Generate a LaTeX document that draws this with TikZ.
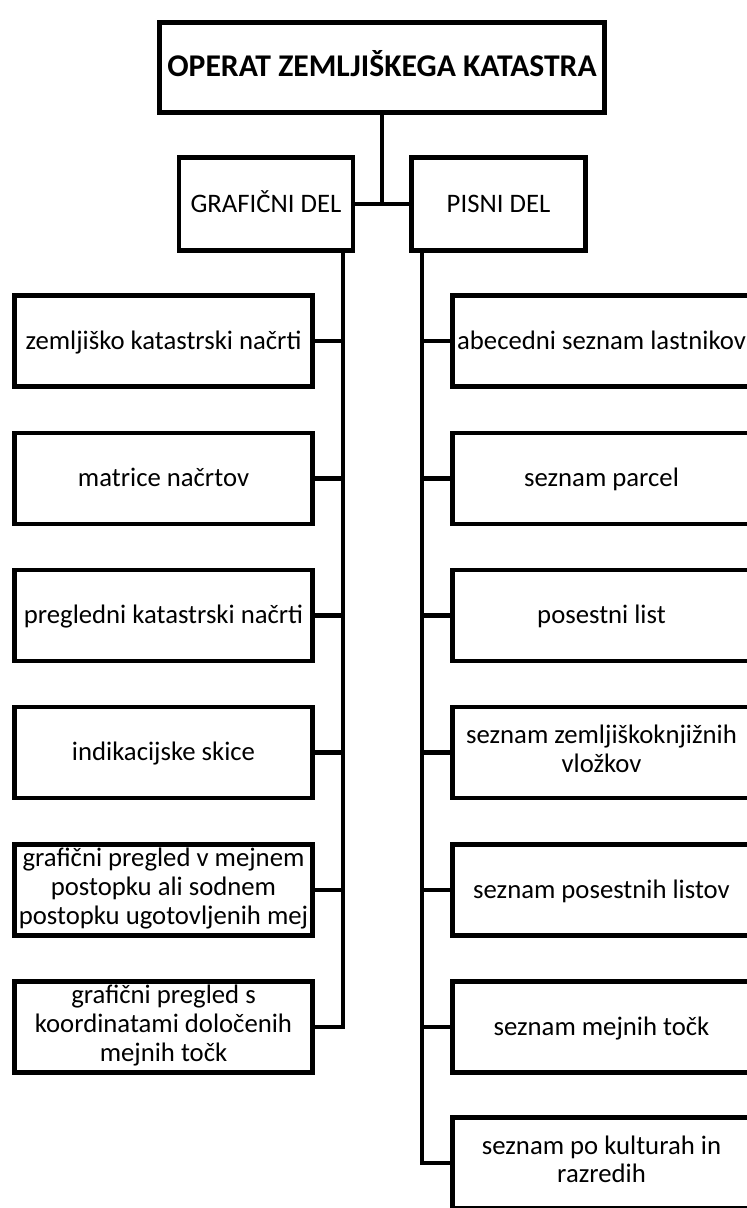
\documentclass[tikz,border=0pt]{standalone}
\usepackage{fontspec}
\setmainfont{Carlito}
\usetikzlibrary{positioning}
\newcommand{\nstrut}{\rule[-5.4pt]{0pt}{22.8pt}}
\tikzset{
  nd/.style={rectangle, draw=black, fill=white, line width=3.5pt,
             align=center, inner xsep=1pt, inner ysep=0pt,
             font=\fontsize{19}{20.3}\selectfont,
             execute at begin node=\nstrut, execute at end node=\nstrut,
             minimum width=7.45cm, minimum height=2.275cm},
  nHead/.style={nd, minimum width=4.35cm, minimum height=2.325cm},
  nTitle/.style={nd, font=\fontsize{22.5}{26}\selectfont\bfseries,
             minimum width=11.125cm, minimum height=2.25cm},
  conn/.style={draw=black, line width=3.5pt},
}

\begin{document}
\begin{tikzpicture}[x=0.025cm, y=-0.025cm]
\useasboundingbox (0,0) rectangle (747,1208);
\clip (0,0) rectangle (747,1208);

%% ============================================================
%% TOP LEVEL
%% ============================================================
\node[nTitle] (title) at (382, 67.5) {OPERAT ZEMLJIŠKEGA KATASTRA};

\node[nHead] (graf)  at (266,   204) {GRAFIČNI DEL};
\node[nHead] (pisni) at (498.5, 204) {PISNI DEL};

%% ============================================================
%% GRAFIČNI DEL  -- left column
%% ============================================================
\node[nd] (g1) at (163.5,  341)   {zemljiško katastrski načrti};
\node[nd] (g2) at (163.5,  478.5) {matrice načrtov};
\node[nd] (g3) at (163.5,  615.5) {pregledni katastrski načrti};
\node[nd] (g4) at (163.5,  752.5) {indikacijske skice};
\node[nd] (g5) at (163.5,  890)   {grafični pregled v mejnem\\
  postopku ali sodnem\\postopku ugotovljenih mej};
\node[nd] (g6) at (163.5, 1027)   {grafični pregled s\\
  koordinatami določenih\\mejnih točk};

%% ============================================================
%% PISNI DEL  -- right column (runs off the page edge)
%% ============================================================
\node[nd] (p1) at (601.5,  341)   {abecedni seznam lastnikov};
\node[nd] (p2) at (601.5,  478.5) {seznam parcel};
\node[nd] (p3) at (601.5,  615.5) {posestni list};
\node[nd] (p4) at (601.5,  752.5) {seznam zemljiškoknjižnih\\vložkov};
\node[nd] (p5) at (601.5,  890)   {seznam posestnih listov};
\node[nd] (p6) at (601.5, 1027)   {seznam mejnih točk};
\node[nd] (p7) at (601.5, 1163)   {seznam po kulturah in\\razredih};

%% ============================================================
%% CONNECTORS
%% ============================================================
% title -> both parts
\draw[conn] (title.south) -- (title.south |- graf.east);
\draw[conn] (graf.east) -- (pisni.west);

% trunks below the two parts
\path (graf.south)  ++(77, 0)   coordinate (lt);
\path (pisni.south) ++(-76.5, 0) coordinate (rt);

\draw[conn] (lt) |- (g1.east);
\draw[conn] (lt) |- (g2.east);
\draw[conn] (lt) |- (g3.east);
\draw[conn] (lt) |- (g4.east);
\draw[conn] (lt) |- (g5.east);
\draw[conn] (lt) |- (g6.east);

\draw[conn] (rt) |- (p1.west);
\draw[conn] (rt) |- (p2.west);
\draw[conn] (rt) |- (p3.west);
\draw[conn] (rt) |- (p4.west);
\draw[conn] (rt) |- (p5.west);
\draw[conn] (rt) |- (p6.west);
\draw[conn] (rt) |- (p7.west);

\end{tikzpicture}
\end{document}
